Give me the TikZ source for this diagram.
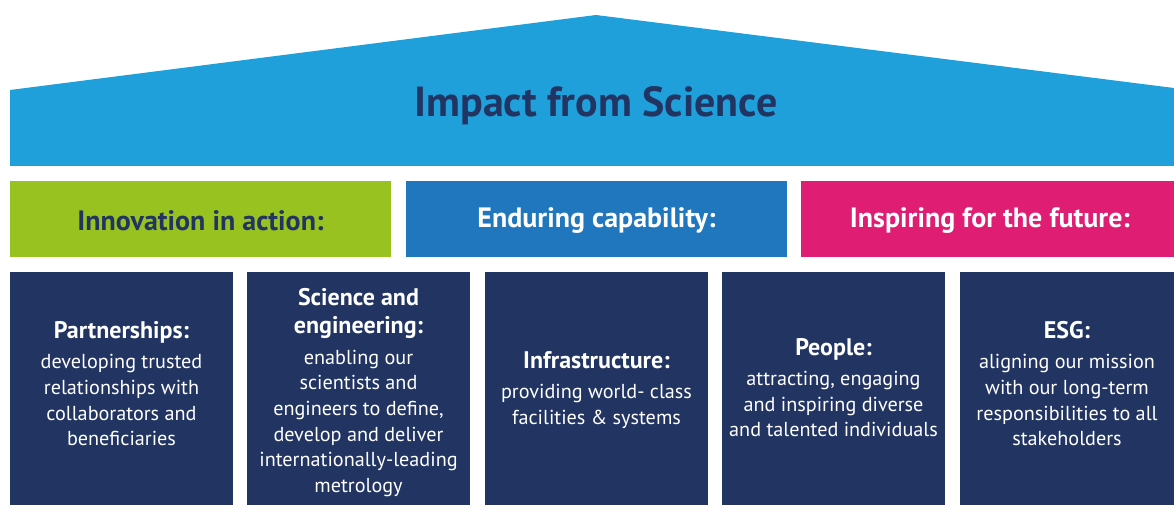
\documentclass[tikz,border=0pt]{standalone}
\usepackage{fontspec}
\setmainfont{PT Sans}
\definecolor{roofblue}{HTML}{20A0DA}
\definecolor{leafgreen}{HTML}{98C21F}
\definecolor{midblue}{HTML}{2177BD}
\definecolor{magenta}{HTML}{DE1D73}
\definecolor{navy}{HTML}{213462}
\tikzset{
  bandtext/.style={font=\bfseries\fontsize{28}{32}\selectfont, inner sep=0pt},
  pillartext/.style={text=white, align=center, inner sep=0pt,
    font=\fontsize{20.2}{25.6}\selectfont},
}
\newcommand{\pillarhead}[1]{{\bfseries\fontsize{24}{28}\selectfont #1}}
\begin{document}
\begin{tikzpicture}[x=1pt, y=-1pt]
\useasboundingbox (0,0) rectangle (1174,505);
% roof
\fill[roofblue] (10,166) -- (10,90) -- (596,15) -- (1174,88) -- (1174,166) -- cycle;
\node[text=navy, font=\bfseries\fontsize{42}{48}\selectfont, inner sep=0pt] (roof) at (596,106) {Impact from Science};
% three bands
\fill[leafgreen] (10,181) rectangle (391,257);
\fill[midblue] (406,181) rectangle (787,257);
\fill[magenta] (801,181) rectangle (1174,257);
\node[bandtext, text=navy] (innov) at (200.5,221) {Innovation in action:};
\node[bandtext, text=white] (endur) at (596.5,221) {Enduring capability:};
\node[bandtext, text=white] (inspire) at (990,221) {Inspiring for the future:};
% five pillars
\fill[navy] (10,272) rectangle (233,505);
\fill[navy] (247,272) rectangle (470,505);
\fill[navy] (485,272) rectangle (708,505);
\fill[navy] (722,272) rectangle (945,505);
\fill[navy] (960,272) rectangle (1174,505);
\node[pillartext] (partner) at (121.5,383.5) {\pillarhead{Partnerships:}\\[5pt]developing trusted\\relationships with\\collaborators and\\beneficiaries};
\node[pillartext] (scieng) at (358.5,392.5) {\pillarhead{Science and}\\[2.5pt]\pillarhead{engineering:}\\[5pt]enabling our\\scientists and\\engineers to define,\\develop and deliver\\internationally-leading\\metrology};
\node[pillartext] (infra) at (596.5,390) {\pillarhead{Infrastructure:}\\[5pt]providing world- class\\facilities \& systems};
\node[pillartext] (people) at (833.5,387.5) {\pillarhead{People:}\\[5pt]attracting, engaging\\and inspiring diverse\\and talented individuals};
\node[pillartext] (esg) at (1067,383.5) {\pillarhead{ESG:}\\[5pt]aligning our mission\\with our long-term\\responsibilities to all\\stakeholders};
\end{tikzpicture}
\end{document}
